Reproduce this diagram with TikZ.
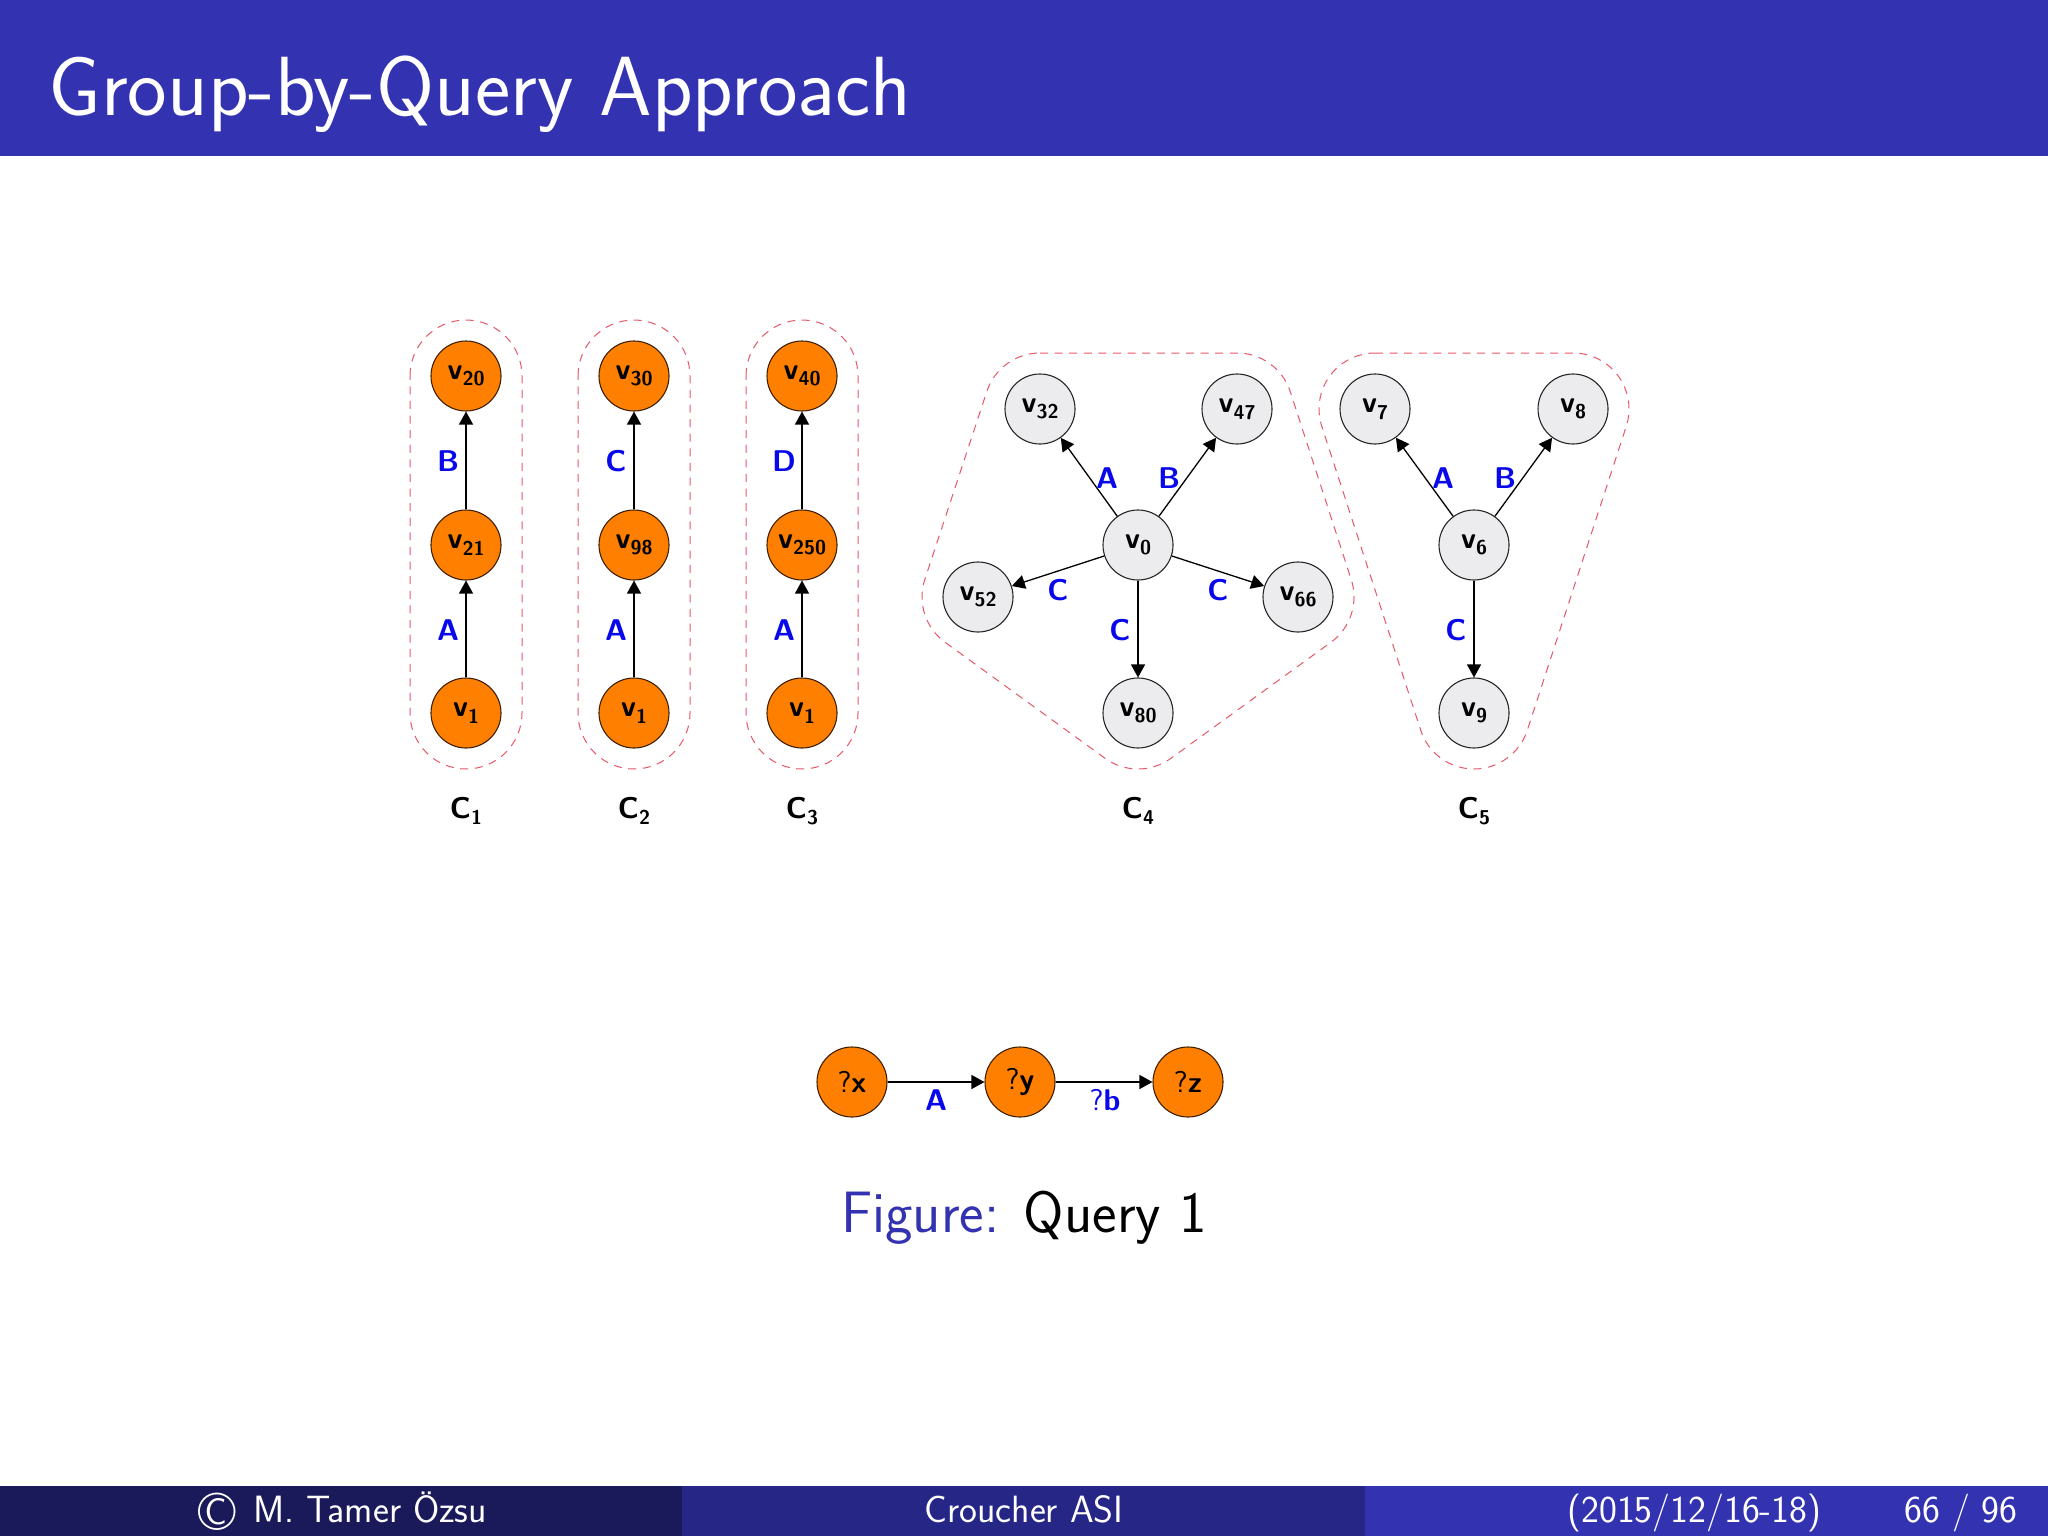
\documentclass[tikz,border=0pt]{standalone}
\usepackage{fontspec}
\usetikzlibrary{arrows.meta,calc}
\definecolor{bartitle}{RGB}{51,51,178}
\definecolor{barmid}{RGB}{38,38,134}
\definecolor{bardark}{RGB}{26,26,90}
\definecolor{hullred}{RGB}{230,88,104}
\definecolor{nodeorange}{RGB}{255,128,0}
\definecolor{nodegray}{RGB}{236,236,238}
\definecolor{lblue}{RGB}{8,8,235}
\newcommand{\vsub}[2]{#1\raisebox{-0.22em}{\fontsize{10}{10}\selectfont #2}}
\tikzset{
  tbase/.style={font=\sffamily\bfseries\fontsize{15}{15}\selectfont,inner sep=0pt},
  vcirc/.style={tbase,circle,minimum size=35pt,line width=.55pt},
  von/.style={vcirc,draw=black!75!nodeorange,fill=nodeorange},
  voff/.style={vcirc,draw=black!85,fill=nodegray},
  lab/.style={tbase,text=lblue},
  ctitle/.style={tbase,text=black},
  conn/.style={-{Triangle[length=6.5pt,width=7pt]},line width=.65pt,black},
  hullp/.style={draw=hullred,line width=.5pt,dash pattern=on 4pt off 3.3pt},
  bartext/.style={inner sep=0pt,text=white,font=\sffamily\fontsize{19}{19}\selectfont},
}
\begin{document}
\begin{tikzpicture}[x=.5pt,y=-.5pt]
\useasboundingbox (0,0) rectangle (2048,1536);
\fill[white] (0,0) rectangle (2048,1536);
\fill[bartitle] (0,0) rectangle (2048,155.5);
\fill[bardark] (0,1486) rectangle (682,1536);
\fill[barmid] (682,1486) rectangle (1365,1536);
\fill[bartitle] (1365,1486) rectangle (2048,1536);
\node[bartext,anchor=base west,font=\sffamily\fontsize{42}{42}\selectfont] (title) at (48,115) {Group-by-Query Approach};
\node[bartext,font=\sffamily\fontsize{27}{27}\selectfont] (copy) at (217,1512) {\textcopyright};
\node[bartext,anchor=base west] (author) at (253,1522) {M. Tamer Özsu};
\node[bartext,anchor=base] (event) at (1024,1522) {Croucher ASI};
\node[bartext,anchor=base west] (date) at (1567,1522) {(2015/12/16-18)};
\node[bartext,anchor=base west] (page) at (1904,1522) {66 / 96};

% columns
\foreach \n/\x/\a/\b/\c/\la/\lb/\cn in {1/466/1/21/20/A/B/1,2/634/1/98/30/A/C/2,3/802/1/250/40/A/D/3}{
  \node[von] (a\n) at (\x,713) {\vsub{v}{\a}};
  \node[von] (b\n) at (\x,545) {\vsub{v}{\b}};
  \node[von] (c\n) at (\x,376) {\vsub{v}{\c}};
  \draw[conn] (a\n) -- (b\n);
  \draw[conn] (b\n) -- (c\n);
  \draw[hullp] ($(c\n.center)+(-56,0)$) arc (180:360:56) -- ($(a\n.center)+(56,0)$) arc (0:180:56) -- cycle;
  \node[lab] (la\n) at (\x-18,630) {\la};
  \node[lab] (lb\n) at (\x-18,461) {\lb};
  \node[ctitle] (cc\n) at (\x,811) {\vsub{C}{\cn}};
}

% C4
\node[voff] (v0) at (1138,545) {\vsub{v}{0}};
\node[voff] (v32) at (1040,409) {\vsub{v}{32}};
\node[voff] (v47) at (1237,409) {\vsub{v}{47}};
\node[voff] (v52) at (978,597) {\vsub{v}{52}};
\node[voff] (v66) at (1298,597) {\vsub{v}{66}};
\node[voff] (v80) at (1138,713) {\vsub{v}{80}};
\foreach \t in {v32,v47,v52,v66,v80} \draw[conn] (v0) -- (\t);
\draw[hullp] ($(v32.center)+(-90:56)$) -- ($(v47.center)+(-90:56)$) arc (-90:-18:56)
  -- ($(v66.center)+(-18:56)$) arc (-18:54:56)
  -- ($(v80.center)+(54:56)$) arc (54:126:56)
  -- ($(v52.center)+(126:56)$) arc (126:198:56)
  -- ($(v32.center)+(198:56)$) arc (198:270:56) -- cycle;
\node[lab] (l4a) at (1107,478) {A};
\node[lab] (l4b) at (1169,478) {B};
\node[lab] (l4c) at (1058,590) {C};
\node[lab] (l4d) at (1218,590) {C};
\node[lab] (l4e) at (1120,630) {C};
\node[ctitle] (c4) at (1138,811) {\vsub{C}{4}};

% C5
\node[voff] (v6) at (1474,545) {\vsub{v}{6}};
\node[voff] (v7) at (1375,409) {\vsub{v}{7}};
\node[voff] (v8) at (1573,409) {\vsub{v}{8}};
\node[voff] (v9) at (1474,713) {\vsub{v}{9}};
\foreach \t in {v7,v8,v9} \draw[conn] (v6) -- (\t);
\draw[hullp] ($(v7.center)+(-90:56)$) -- ($(v8.center)+(-90:56)$) arc (-90:18:56)
  -- ($(v9.center)+(18:56)$) arc (18:162:56)
  -- ($(v7.center)+(162:56)$) arc (162:270:56) -- cycle;
\node[lab] (l5a) at (1443,478) {A};
\node[lab] (l5b) at (1505,478) {B};
\node[lab] (l5c) at (1456,630) {C};
\node[ctitle] (c5) at (1474,811) {\vsub{C}{5}};

% query
\node[von] (qx) at (852,1082) {{\mdseries ?}x};
\node[von] (qy) at (1020,1082) {{\mdseries ?}y};
\node[von] (qz) at (1188,1082) {{\mdseries ?}z};
\draw[conn] (qx) -- (qy);
\draw[conn] (qy) -- (qz);
\node[lab] (qa) at (936,1100) {A};
\node[lab] (qb) at (1105,1100) {{\mdseries ?}b};
\node[inner sep=0pt,anchor=base,font=\sffamily\fontsize{29.2}{29}\selectfont] (fig) at (1024,1232) {\textcolor{bartitle}{Figure:} Query 1};
\end{tikzpicture}
\end{document}
